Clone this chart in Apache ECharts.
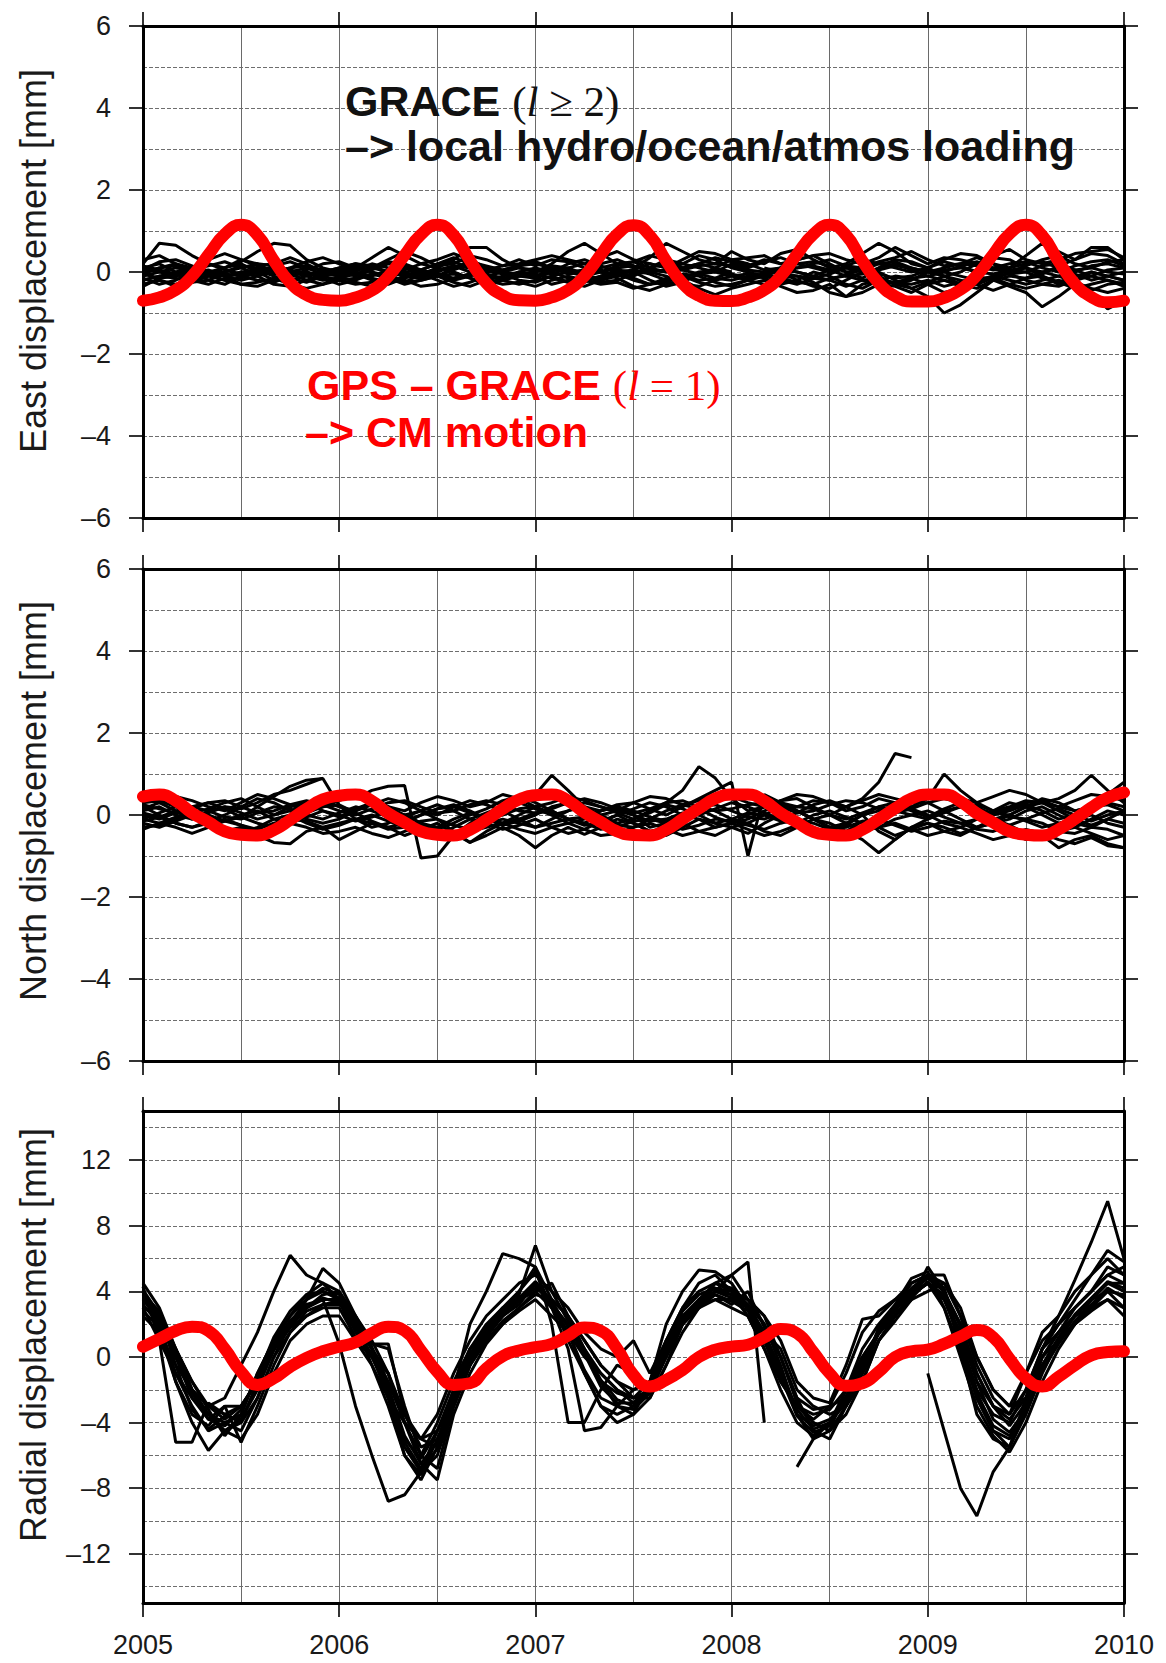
<!DOCTYPE html>
<html>
<head>
<meta charset="utf-8">
<script src="https://cdn.jsdelivr.net/npm/echarts@6/dist/echarts.min.js"></script>
<style>
  html, body { margin: 0; padding: 0; background: #fff; }
  #chart { width: 1166px; height: 1663px; }
</style>
</head>
<body>
<div id="chart"></div>
<script>
// Monthly epochs, January 2005 through January 2010, as decimal years
const epochs = Array.from({ length: 61 }, (_, i) => 2005 + i / 12);

// Tick values
const yearTicks = [2005, 2006, 2007, 2008, 2009, 2010];
const horizTicks = [-6, -4, -2, 0, 2, 4, 6];
const horizGrid = [-5, -4, -3, -2, -1, 0, 1, 2, 3, 4, 5];
const radialTicks = [-12, -8, -4, 0, 4, 8, 12];
const radialGrid = [-14, -12, -10, -8, -6, -4, -2, 0, 2, 4, 6, 8, 10, 12, 14];

// Degree-1 (CM motion) displacement, mm
const eastCM = [
  -0.7, -0.62, -0.44, -0.1, 0.42, 0.92, 1.15, 0.9, 0.28, -0.26, -0.56, -0.68,
  -0.7, -0.62, -0.45, -0.11, 0.41, 0.91, 1.15, 0.9, 0.28, -0.27, -0.57, -0.69,
  -0.7, -0.62, -0.44, -0.1, 0.42, 0.92, 1.14, 0.89, 0.27, -0.28, -0.58, -0.7,
  -0.71, -0.62, -0.44, -0.1, 0.43, 0.92, 1.15, 0.9, 0.27, -0.27, -0.59, -0.72,
  -0.72, -0.63, -0.43, -0.08, 0.43, 0.93, 1.15, 0.89, 0.26, -0.29, -0.61, -0.74, -0.7
];
const northCM = [
  0.45, 0.5, 0.35, 0.05, -0.17, -0.4, -0.48, -0.5, -0.37, -0.12, 0.15, 0.38,
  0.47, 0.5, 0.34, 0.04, -0.18, -0.4, -0.48, -0.5, -0.36, -0.12, 0.15, 0.38,
  0.48, 0.5, 0.35, 0.06, -0.17, -0.4, -0.49, -0.5, -0.36, -0.1, 0.16, 0.4,
  0.5, 0.5, 0.34, 0.05, -0.18, -0.41, -0.48, -0.5, -0.36, -0.1, 0.16, 0.4,
  0.5, 0.5, 0.33, 0.04, -0.18, -0.4, -0.48, -0.5, -0.35, -0.1, 0.18, 0.42, 0.55
];
const radialCM = [
  0.63, 1.1, 1.6, 1.85, 1.6, 0.5, -0.9, -1.7, -1.3, -0.6, -0.05, 0.35,
  0.63, 0.9, 1.45, 1.85, 1.6, 0.4, -0.9, -1.7, -1.6, -0.7, 0.05, 0.4,
  0.6, 0.8, 1.3, 1.8, 1.6, 0.5, -1.1, -1.8, -1.4, -0.8, 0.0, 0.45,
  0.63, 0.75, 1.2, 1.7, 1.45, 0.3, -1.0, -1.75, -1.6, -0.9, 0.0, 0.35,
  0.45, 0.8, 1.25, 1.65, 1.2, -0.1, -1.3, -1.8, -1.2, -0.5, 0.1, 0.3, 0.35
];

// Local loading (GRACE degree >= 2) at individual stations, mm
const eastStations = [
  [0.2, 0.7, 0.65, 0.4, 0.2, 0.1, 0.25, 0.5, 0.7, 0.65, 0.3, 0.1,
   0.0, 0.1, 0.35, 0.6, 0.4, 0.2, 0.1, 0.3, 0.6, 0.6, 0.3, 0.1,
   0.0, 0.2, 0.5, 0.7, 0.45, 0.2, 0.1, 0.35, 0.7, 0.5, 0.3, 0.2,
   0.5, 0.3, 0.2, 0.45, 0.55, 0.3, 0.1, 0.2, 0.45, 0.7, 0.5, 0.2,
   0.1, 0.3, 0.45, 0.4, 0.2, 0.1, 0.4, 0.7, 0.5, 0.3, 0.6, 0.6, 0.3],
  [-0.1, 0.0, 0.1, 0.05, -0.1, 0.0, 0.15, 0.1, -0.05, 0.0, 0.1, 0.05,
   -0.05, 0.0, -0.1, 0.05, 0.1, 0.0, -0.1, 0.05, 0.2, 0.1, 0.0, -0.05,
   0.0, 0.1, 0.05, -0.05, 0.0, 0.1, 0.15, 0.05, 0.0, 0.1, 0.2, 0.1,
   0.0, null, 0.05, 0.1, 0.0, -0.1, 0.05, 0.1, 0.0, 0.05, 0.15, 0.1,
   0.0, 0.05, 0.1, 0.0, -0.05, 0.05, 0.1, 0.0, -0.1, 0.05, 0.1, 0.0, -0.05],
  [-0.3, -0.2, -0.35, -0.25, -0.1, -0.2, -0.3, -0.25, -0.15, -0.3, -0.4, -0.3,
   -0.2, -0.3, -0.25, -0.1, -0.2, -0.35, -0.3, -0.15, -0.05, -0.2, -0.3, -0.25,
   -0.35, -0.2, -0.1, -0.2, -0.3, -0.25, -0.4, -0.3, -0.15, -0.1, -0.25, -0.35,
   -0.3, -0.2, -0.3, -0.15, -0.1, -0.25, -0.5, -0.6, -0.3, -0.2, -0.25, -0.3,
   -0.2, -0.35, -0.25, -0.1, -0.2, -0.35, -0.5, -0.85, -0.6, -0.3, -0.5, -0.9, -0.7],
  [0.1, 0.2, 0.0, -0.15, -0.1, 0.1, 0.2, 0.0, -0.2, -0.1, 0.05, 0.2,
   0.25, 0.1, 0.0, -0.1, 0.05, 0.2, 0.3, 0.45, 0.3, 0.1, 0.0, -0.1,
   -0.15, 0.0, 0.2, 0.3, 0.15, 0.0, -0.1, 0.1, 0.3, 0.2, 0.4, 0.3,
   0.1, 0.0, -0.1, 0.1, 0.3, 0.4, 0.2, 0.0, -0.15, 0.1, 0.3, 0.25,
   0.1, -0.1, 0.0, 0.2, 0.35, 0.3, 0.1, -0.05, 0.15, 0.3, 0.45, 0.4, 0.2],
  [-0.2, -0.1, 0.0, 0.1, -0.05, -0.2, -0.15, 0.0, 0.1, 0.0, -0.1, -0.2,
   -0.15, -0.05, 0.1, 0.0, -0.1, -0.15, 0.0, 0.15, 0.1, -0.05, -0.15, -0.1,
   0.0, 0.15, 0.1, -0.05, -0.2, -0.1, 0.05, 0.2, 0.1, -0.1, -0.2, -0.15,
   0.0, null, 0.1, 0.0, -0.1, -0.15, -0.05, 0.1, 0.05, 0.0, -0.2, -0.4,
   -0.6, -1.0, -0.8, -0.5, -0.2, -0.1, -0.15, 0.0, 0.1, -0.05, -0.2, -0.1, 0.0],
  [0.0, -0.2, -0.3, -0.15, 0.0, -0.1, -0.3, -0.35, -0.2, -0.1, 0.0, -0.15,
   -0.3, -0.2, -0.05, -0.15, -0.3, -0.2, -0.1, -0.25, -0.35, -0.2, -0.1, 0.0,
   -0.1, -0.3, -0.2, -0.1, 0.0, -0.15, -0.35, -0.45, -0.3, -0.2, -0.4, -0.55,
   -0.4, -0.3, -0.2, -0.35, -0.5, -0.45, -0.3, -0.6, -0.5, -0.3, -0.35, -0.5,
   -0.3, -0.2, -0.35, -0.3, -0.15, -0.3, -0.4, -0.3, -0.2, -0.35, -0.45, -0.3, -0.25],
  [0.3, 0.4, 0.2, 0.1, 0.3, 0.45, 0.3, 0.15, 0.2, 0.35, 0.2, 0.0,
   0.1, 0.2, 0.1, 0.3, 0.5, 0.35, 0.15, 0.2, 0.4, 0.3, 0.15, 0.2,
   0.3, 0.4, 0.3, 0.2, 0.35, 0.5, 0.3, 0.2, 0.1, 0.3, 0.5, 0.45,
   0.3, 0.35, 0.4, 0.2, 0.3, 0.4, 0.45, 0.3, 0.2, 0.35, 0.6, 0.4,
   0.2, 0.35, 0.3, 0.2, 0.4, 0.55, 0.3, 0.2, 0.3, 0.45, 0.5, 0.55, 0.35],
  [-0.05, 0.1, 0.2, 0.0, -0.2, -0.3, -0.1, 0.1, 0.05, -0.15, -0.25, -0.1,
   0.05, 0.15, 0.0, -0.2, -0.25, -0.05, 0.1, 0.0, -0.15, -0.3, -0.2, 0.0,
   0.1, 0.0, -0.15, -0.25, -0.1, 0.05, 0.0, -0.2, -0.35, -0.25, -0.05, 0.0,
   -0.1, -0.2, -0.05, 0.0, -0.2, -0.35, -0.4, -0.2, 0.0, -0.1, -0.3, -0.2,
   0.0, -0.1, -0.3, -0.4, -0.2, 0.0, 0.1, -0.1, -0.3, -0.2, 0.0, -0.1, -0.2],
  [0.1, 0.0, -0.1, 0.1, 0.2, 0.05, -0.05, 0.0, 0.15, 0.25, 0.1, -0.05,
   0.0, -0.1, 0.05, 0.2, 0.15, 0.0, -0.1, 0.1, 0.25, 0.15, 0.05, 0.15,
   0.25, 0.1, 0.0, 0.05, 0.2, 0.3, 0.15, 0.0, 0.05, 0.2, 0.1, 0.0,
   0.2, 0.1, 0.25, 0.35, 0.2, 0.1, 0.0, 0.15, 0.3, 0.2, 0.1, 0.0,
   0.1, 0.25, 0.15, 0.0, 0.1, 0.2, 0.25, 0.1, 0.0, 0.15, 0.25, 0.3, 0.15],
  [-0.15, -0.3, -0.2, 0.0, 0.05, -0.1, -0.2, -0.1, 0.0, -0.05, -0.2, -0.3,
   -0.1, 0.0, -0.15, -0.25, -0.1, 0.0, -0.05, -0.2, -0.1, 0.05, -0.05, -0.2,
   -0.25, -0.1, 0.0, -0.1, -0.25, -0.2, -0.05, 0.0, -0.1, -0.3, -0.35, -0.2,
   -0.1, -0.05, -0.15, -0.3, -0.2, 0.0, -0.1, -0.3, -0.4, -0.2, -0.1, -0.15,
   -0.3, -0.5, -0.4, -0.2, -0.1, -0.2, -0.3, -0.2, -0.1, -0.25, -0.4, -0.5, -0.4],
  [0.05, 0.25, 0.3, 0.15, 0.0, 0.1, 0.3, 0.2, 0.0, 0.1, 0.25, 0.35,
   0.2, 0.05, 0.1, 0.25, 0.2, 0.05, 0.2, 0.35, 0.2, 0.05, 0.15, 0.3,
   0.15, 0.3, 0.25, 0.1, 0.0, 0.15, 0.25, 0.4, 0.3, 0.1, 0.2, 0.35,
   0.25, 0.15, 0.3, 0.2, 0.1, 0.2, 0.3, 0.15, 0.1, 0.25, 0.35, 0.5,
   0.3, 0.15, 0.2, 0.35, 0.2, 0.0, 0.15, 0.3, 0.4, 0.2, 0.1, 0.25, 0.3],
  [-0.35, -0.15, -0.05, -0.2, -0.3, -0.15, 0.0, -0.1, -0.3, -0.35, -0.2, -0.05,
   -0.1, -0.25, -0.35, -0.3, -0.15, -0.05, -0.2, -0.35, -0.25, -0.1, -0.2, -0.3,
   -0.2, -0.1, -0.25, -0.35, -0.2, -0.05, -0.15, -0.3, -0.2, -0.05, -0.1, -0.25,
   -0.35, -0.2, -0.1, -0.2, -0.3, -0.15, -0.2, -0.35, -0.2, -0.15, -0.3, -0.4,
   -0.25, -0.1, -0.2, -0.3, -0.45, -0.3, -0.15, -0.1, -0.25, -0.4, -0.3, -0.2, -0.35],
  [0.0, 0.1, 0.15, 0.05, -0.05, 0.0, 0.1, 0.2, 0.15, 0.05, -0.05, 0.0,
   0.1, 0.2, 0.15, 0.0, -0.1, 0.05, 0.2, 0.25, 0.1, 0.0, 0.05, 0.15,
   0.2, 0.1, -0.05, 0.0, 0.1, 0.2, 0.25, 0.1, 0.0, 0.05, 0.15, 0.2,
   0.15, 0.05, 0.0, 0.1, 0.2, 0.25, 0.15, 0.0, 0.05, 0.2, 0.25, 0.1,
   0.0, 0.1, 0.2, 0.15, 0.05, 0.1, 0.2, 0.25, 0.1, 0.0, 0.15, 0.2, 0.1],
  [-0.2, -0.1, -0.15, -0.25, -0.2, -0.05, -0.1, -0.2, -0.25, -0.1, 0.0, -0.1,
   -0.2, -0.15, -0.05, -0.1, -0.25, -0.2, -0.1, -0.05, -0.15, -0.25, -0.2, -0.1,
   -0.05, -0.15, -0.25, -0.2, -0.1, -0.05, -0.2, -0.3, -0.25, -0.1, -0.05, -0.15,
   -0.2, -0.1, -0.05, -0.15, -0.25, -0.3, -0.15, -0.1, -0.2, -0.3, -0.25, -0.15,
   -0.1, -0.2, -0.3, -0.25, -0.1, -0.05, -0.2, -0.3, -0.35, -0.2, -0.1, -0.2, -0.3],
  [0.15, 0.05, -0.05, 0.05, 0.15, 0.25, 0.1, -0.05, 0.0, 0.1, 0.15, 0.05,
   -0.05, 0.05, 0.2, 0.1, -0.05, -0.1, 0.05, 0.15, 0.0, -0.1, 0.0, 0.1,
   0.05, -0.05, 0.1, 0.2, 0.05, -0.1, -0.05, 0.1, 0.2, 0.05, -0.05, 0.1,
   0.3, 0.2, 0.05, -0.05, 0.1, 0.15, 0.05, -0.1, -0.05, 0.1, 0.2, 0.05,
   -0.1, 0.0, 0.15, 0.25, 0.1, -0.05, 0.0, 0.15, 0.2, 0.05, -0.1, 0.05, 0.1],
  [-0.05, -0.15, -0.1, 0.0, -0.05, -0.1, 0.0, 0.05, -0.1, -0.2, -0.1, 0.0,
   0.05, -0.05, -0.2, -0.15, 0.0, 0.05, -0.05, -0.15, -0.05, 0.05, 0.0, -0.1,
   -0.1, 0.05, 0.05, -0.1, -0.15, 0.0, 0.05, -0.05, -0.2, -0.15, 0.0, 0.05,
   -0.05, -0.15, -0.1, 0.05, 0.0, -0.1, -0.2, -0.05, 0.05, -0.05, -0.15, -0.1,
   0.05, 0.0, -0.1, -0.2, -0.1, 0.05, 0.0, -0.15, -0.25, -0.1, 0.0, -0.1, -0.2]
];

const northStations = [
  [0.1, 0.2, 0.0, -0.1, 0.1, 0.2, 0.15, 0.3, 0.5, 0.6, 0.75, 0.9,
   null, 0.4, 0.6, 0.7, 0.72, -1.05, -1.0, -0.5, -0.2, 0.0, 0.1, -0.1,
   -0.3, -0.1, 0.1, 0.2, 0.0, -0.2, -0.1, 0.1, 0.3, 0.6, 1.18, 0.9,
   0.4, 0.1, 0.2, 0.3, 0.1, -0.1, 0.0, 0.2, 0.4, 0.8, 1.5, 1.4,
   null, 0.5, 0.3, 0.1, -0.1, 0.0, 0.2, 0.4, 0.3, 0.1, 0.2, 0.5, 0.8],
  [-0.2, -0.3, -0.15, 0.0, -0.2, -0.4, -0.3, -0.5, -0.67, -0.7, -0.4, -0.3,
   -0.6, -0.4, -0.2, -0.3, -0.5, -0.35, -0.2, -0.45, -0.67, -0.5, -0.3, -0.5,
   -0.8, -0.5, -0.3, -0.47, -0.3, -0.1, -0.2, -0.4, -0.3, -0.2, -0.4, -0.5,
   -0.3, -0.2, -0.4, -0.5, -0.3, -0.1, -0.2, -0.4, -0.6, -0.92, -0.6, -0.3,
   -0.2, -0.4, -0.5, -0.3, -0.2, -0.4, -0.6, -0.5, -0.8, -0.6, -0.5, -0.7, -0.8],
  [0.3, 0.35, 0.2, 0.05, 0.15, 0.3, 0.4, 0.2, 0.0, 0.1, 0.25, 0.35,
   0.2, 0.1, 0.25, 0.4, 0.3, 0.1, 0.0, 0.2, 0.35, 0.25, 0.1, 0.3,
   0.5, 0.97, 0.6, 0.2, 0.1, 0.25, 0.3, 0.15, 0.0, 0.2, 0.4, 0.6,
   0.8, -1.0, 0.5, 0.3, 0.2, 0.35, 0.3, 0.1, 0.2, 0.4, 0.3, 0.2,
   0.4, 1.0, 0.6, 0.3, 0.1, 0.2, 0.35, 0.3, 0.4, 0.6, 0.97, 0.6, 0.3],
  [-0.1, 0.05, 0.2, 0.1, -0.05, -0.15, 0.0, 0.1, -0.1, -0.2, -0.05, 0.1,
   0.0, -0.15, -0.05, 0.1, 0.0, -0.2, -0.3, -0.1, 0.05, -0.05, -0.2, -0.1,
   0.05, 0.1, -0.1, -0.2, 0.0, 0.1, 0.0, -0.15, -0.1, 0.05, 0.0, -0.2,
   -0.1, 0.05, 0.0, -0.15, -0.2, 0.0, 0.1, -0.05, -0.2, -0.3, -0.1, 0.0,
   0.1, -0.05, -0.2, -0.1, 0.05, 0.0, -0.15, -0.3, -0.2, -0.1, 0.0, -0.2, -0.3],
  [0.2, 0.0, -0.2, -0.3, -0.15, 0.0, 0.2, 0.4, 0.3, 0.1, -0.1, -0.2,
   -0.1, 0.1, 0.3, 0.2, 0.0, -0.2, -0.35, -0.2, 0.0, 0.15, 0.35, 0.45,
   0.3, 0.1, -0.1, -0.25, -0.2, 0.0, 0.15, 0.3, 0.2, 0.0, -0.1, -0.3,
   -0.2, 0.0, 0.2, 0.35, 0.4, 0.2, 0.0, -0.2, -0.35, -0.2, 0.1, 0.3,
   0.3, 0.1, -0.1, -0.3, -0.2, 0.0, 0.2, 0.3, 0.1, -0.1, -0.25, -0.1, 0.1],
  [-0.3, -0.25, -0.1, 0.05, -0.1, -0.3, -0.45, -0.3, -0.1, 0.0, -0.2, -0.35,
   -0.25, -0.1, 0.0, -0.15, -0.3, -0.45, -0.5, -0.3, -0.1, -0.2, -0.35, -0.25,
   -0.1, -0.3, -0.45, -0.35, -0.15, 0.0, -0.2, -0.4, -0.5, -0.3, -0.1, -0.2,
   -0.3, -0.45, -0.2, 0.0, -0.15, -0.35, -0.5, -0.4, -0.15, -0.3, -0.5, -0.35,
   -0.2, -0.3, -0.45, -0.3, -0.1, -0.25, -0.45, -0.6, -0.4, -0.3, -0.45, -0.6, -0.5],
  [0.4, 0.3, 0.45, 0.35, 0.2, 0.1, 0.3, 0.5, 0.4, 0.25, 0.1, 0.2,
   0.35, 0.5, 0.4, 0.2, 0.1, 0.3, 0.45, 0.35, 0.2, 0.3, 0.5, 0.4,
   0.2, 0.3, 0.45, 0.35, 0.2, 0.1, 0.3, 0.45, 0.4, 0.25, 0.35, 0.5,
   0.45, 0.3, 0.2, 0.35, 0.5, 0.45, 0.3, 0.2, 0.35, 0.5, 0.4, 0.3,
   0.5, 0.6, 0.4, 0.3, 0.45, 0.6, 0.5, 0.3, 0.2, 0.35, 0.5, 0.45, 0.35],
  [0.0, -0.1, 0.05, 0.2, 0.3, 0.15, -0.05, -0.2, -0.3, -0.15, 0.05, 0.2,
   0.25, 0.05, -0.15, -0.3, -0.2, 0.0, 0.15, 0.25, 0.1, -0.1, -0.25, -0.15,
   0.0, 0.2, 0.3, 0.15, -0.05, -0.25, -0.3, -0.1, 0.1, 0.25, 0.15, -0.05,
   -0.2, -0.1, 0.1, 0.25, 0.1, -0.1, -0.3, -0.25, 0.0, 0.2, 0.3, 0.15,
   0.0, -0.2, -0.3, -0.1, 0.1, 0.3, 0.2, 0.0, -0.2, -0.3, -0.1, 0.1, 0.0],
  [-0.35, -0.2, -0.3, -0.45, -0.3, -0.15, -0.25, -0.4, -0.35, -0.2, -0.3, -0.45,
   -0.4, -0.3, -0.45, -0.55, -0.4, -0.25, -0.35, -0.5, -0.4, -0.3, -0.2, -0.35,
   -0.45, -0.3, -0.2, -0.35, -0.5, -0.45, -0.3, -0.2, -0.35, -0.5, -0.4, -0.3,
   -0.2, -0.35, -0.5, -0.4, -0.25, -0.3, -0.45, -0.55, -0.4, -0.3, -0.2, -0.35,
   -0.5, -0.4, -0.3, -0.45, -0.6, -0.5, -0.35, -0.45, -0.6, -0.7, -0.55, -0.75, -0.8],
  [0.15, 0.3, 0.1, -0.1, 0.05, 0.2, 0.05, -0.1, 0.0, 0.2, 0.3, 0.1,
   -0.05, 0.15, 0.3, 0.15, -0.05, 0.1, 0.25, 0.1, -0.1, 0.05, 0.2, 0.3,
   0.15, 0.0, 0.1, 0.3, 0.2, 0.05, -0.1, 0.05, 0.25, 0.15, 0.0, 0.15,
   0.3, 0.2, 0.05, -0.1, 0.05, 0.25, 0.35, 0.2, 0.0, 0.1, 0.25, 0.1,
   -0.05, 0.15, 0.3, 0.2, 0.0, 0.1, 0.25, 0.1, -0.1, 0.0, 0.2, 0.25, 0.1],
  [0.05, -0.05, 0.1, 0.2, 0.1, -0.05, -0.1, 0.05, 0.2, 0.15, 0.0, -0.1,
   0.05, 0.2, 0.1, -0.05, -0.15, 0.0, 0.15, 0.2, 0.05, -0.1, 0.0, 0.15,
   0.2, 0.05, -0.1, -0.05, 0.1, 0.2, 0.1, -0.05, -0.15, 0.0, 0.2, 0.25,
   0.1, -0.05, -0.1, 0.05, 0.2, 0.15, 0.0, -0.1, 0.05, 0.2, 0.1, 0.0,
   -0.1, 0.05, 0.2, 0.25, 0.1, -0.05, -0.1, 0.05, 0.15, 0.0, -0.15, 0.0, 0.1],
  [-0.15, -0.05, -0.2, -0.3, -0.2, -0.1, -0.25, -0.35, -0.2, -0.1, -0.15, -0.3,
   -0.2, -0.1, -0.2, -0.35, -0.3, -0.15, -0.1, -0.25, -0.35, -0.2, -0.1, -0.2,
   -0.3, -0.2, -0.1, -0.2, -0.35, -0.3, -0.15, -0.1, -0.2, -0.35, -0.25, -0.1,
   -0.15, -0.25, -0.35, -0.2, -0.1, -0.2, -0.35, -0.3, -0.15, -0.1, -0.25, -0.4,
   -0.3, -0.15, -0.2, -0.35, -0.4, -0.25, -0.1, -0.2, -0.4, -0.45, -0.3, -0.35, -0.5],
  [0.25, 0.15, 0.05, 0.15, 0.3, 0.35, 0.2, 0.05, 0.1, 0.25, 0.35, 0.25,
   0.1, 0.0, 0.15, 0.3, 0.35, 0.2, 0.05, 0.1, 0.25, 0.35, 0.25, 0.1,
   0.05, 0.15, 0.3, 0.4, 0.3, 0.15, 0.05, 0.15, 0.3, 0.35, 0.2, 0.1,
   0.15, 0.25, 0.3, 0.2, 0.05, 0.1, 0.25, 0.35, 0.3, 0.15, 0.05, 0.15,
   0.3, 0.4, 0.3, 0.15, 0.05, 0.15, 0.3, 0.35, 0.2, 0.1, 0.2, 0.3, 0.2],
  [-0.1, -0.2, -0.05, 0.1, 0.0, -0.15, -0.05, 0.2, 0.45, 0.7, 0.85, 0.89,
   0.23, -0.1, -0.3, -0.2, 0.0, 0.1, -0.1, -0.4, -0.67, -0.4, -0.2, 0.0,
   0.2, 0.0, -0.2, -0.1, 0.1, 0.2, 0.0, -0.3, -0.2, 0.0, 0.2, 0.1,
   -0.1, -0.2, 0.0, 0.2, 0.1, -0.1, -0.3, -0.2, 0.0, -0.4, -0.6, -0.3,
   -0.1, 0.1, 0.2, 0.0, -0.2, -0.1, 0.1, 0.2, 0.0, -0.2, -0.3, -0.1, -0.2]
];

const radialStations = [
  [4.3, 1.0, -5.2, -5.2, -2.8, -3.5, -4.0, -1.5, 0.5, 2.2, 3.2, 3.5,
   0.8, -3.0, -6.0, -8.8, -8.4, -7.0, -4.5, -2.5, -0.5, 1.5, 2.8, 4.0,
   5.2, 3.0, 1.5, -1.0, -3.0, -3.5, -3.0, -1.8, 0.8, 2.8, 3.8, 4.2,
   3.8, 3.0, 1.2, -1.0, -3.5, -4.2, -3.8, -2.8, -0.8, 1.8, 3.0, 4.2,
   5.0, 4.2, 1.0, -2.5, -4.5, -5.5, -3.0, 0.0, 1.5, 3.0, 4.0, 5.0, 5.5],
  [4.0, 2.0, -1.5, -4.0, -5.7, -4.5, -3.8, -2.0, 0.5, 2.0, 3.5, 4.2,
   3.8, 2.2, 0.5, -2.5, -6.0, -7.2, -5.0, -2.5, 0.0, 1.2, 2.5, 3.2,
   4.5, 3.2, 1.5, -0.8, -2.5, -3.0, -3.2, -2.2, 0.0, 2.0, 3.0, 3.8,
   3.2, 4.0, 1.8, 0.0, -2.8, -4.0, -4.5, -3.0, -1.0, 1.0, 2.5, 3.8,
   4.5, 3.8, 2.0, -1.0, -3.0, -4.2, -2.8, 0.5, 2.0, 3.5, 5.0, 6.5, 5.8],
  [3.0, 2.5, 0.0, -2.5, -3.8, -3.0, -5.2, -3.0, -0.5, 1.5, 2.8, 3.2,
   3.4, 1.8, 0.5, -1.0, -4.0, -6.5, -7.5, -3.5, -1.0, 0.8, 2.0, 3.0,
   4.0, 4.5, 2.5, 0.5, -1.0, -2.0, -2.5, -1.5, 1.0, 2.5, 3.2, 3.5,
   3.0, 2.5, 0.5, -1.5, -3.0, -3.5, -3.2, -2.0, 0.0, 1.5, 2.5, 3.5,
   4.0, 4.5, 2.5, -0.5, -2.5, -3.5, -2.0, 0.5, 1.5, 2.5, 3.0, 4.0, 3.0],
  [2.5, 1.5, -0.5, -2.0, -3.0, -2.5, -0.5, 1.5, 4.0, 6.2, 5.0, 4.5,
   3.5, 1.0, -0.5, -2.5, -4.0, -5.0, -5.5, -2.0, 2.0, 4.0, 6.3, 6.0,
   5.5, 3.5, 1.0, -1.0, -3.0, -4.0, -3.5, -1.5, 2.0, 4.0, 5.3, 5.2,
   4.5, 3.0, 1.0, -1.5, -3.0, -3.8, -3.0, -1.0, 1.5, 2.8, 3.5, 4.0,
   4.5, 3.5, 1.5, -1.5, -3.0, -3.5, -1.0, 1.5, 2.5, 4.0, 5.0, 6.0, 5.0],
  [3.8, 2.5, 0.5, -2.0, -3.5, -4.5, -4.0, -2.5, 0.0, 2.0, 3.5, 5.4,
   4.5, 2.5, 0.8, 0.5, -3.0, -6.0, -6.8, -3.0, -0.5, 1.0, 2.2, 3.0,
   3.8, 3.5, 2.5, 1.0, -0.5, -1.5, -2.0, -1.5, 0.5, 2.0, 3.0, 4.5,
   5.0, 3.5, 2.0, 0.0, -2.5, -3.2, -3.0, -2.5, -0.5, 1.5, 3.0, 4.0,
   5.0, 4.5, 3.0, 0.0, -2.0, -3.0, -2.5, 0.0, 1.0, 2.0, 2.8, 3.5, 3.0],
  [4.5, 3.0, 0.5, -2.0, -3.0, -3.8, -3.0, -1.5, 0.5, 1.8, 2.5, 3.0,
   3.0, 1.2, 0.8, 0.8, -3.5, -5.5, -5.0, -3.0, -0.5, 1.5, 2.5, 3.8,
   6.8, 4.0, 2.2, 0.2, -1.5, -2.2, -2.5, -2.0, 0.0, 2.0, 3.0, 3.5,
   3.5, 3.0, 1.5, 0.5, -2.0, -3.0, -3.5, -3.0, -1.5, 1.0, 2.2, 3.5,
   5.5, 4.0, 2.0, -1.0, -3.0, -3.8, -2.5, 0.0, 1.5, 2.5, 3.5, 4.0, 3.8],
  [3.2, 2.0, -1.0, -3.0, -4.5, -4.0, -3.5, -1.0, 1.0, 2.5, 3.5, 4.0,
   3.5, 2.0, 0.0, -2.0, -5.0, -6.2, -4.5, -2.0, 0.5, 1.8, 3.0, 4.0,
   5.5, 2.0, -4.0, -4.0, -2.0, -0.5, -1.0, -1.8, 1.0, 3.0, 4.0, 4.5,
   4.0, 3.5, 2.5, 0.0, -2.5, -4.5, -5.0, -3.0, -1.0, 1.5, 3.0, 4.5,
   5.0, 4.0, 0.5, -3.5, -5.0, -5.5, -3.5, -1.0, 1.0, 2.5, 3.5, 4.5, 4.5],
  [4.0, 1.5, -1.5, -3.5, -4.2, -3.0, -3.0, -1.5, 0.5, 2.0, 3.0, 3.8,
   4.0, 2.5, 0.5, -1.5, -4.0, -6.0, -4.0, -1.5, 0.5, 1.5, 2.5, 3.5,
   4.5, 3.0, 0.5, -4.5, -4.3, -3.0, -2.0, -1.5, 0.5, 2.2, 3.3, 4.0,
   3.8, 2.5, 0.5, -2.0, -4.0, -4.8, -4.0, -2.0, 0.0, 1.5, 2.5, 3.8,
   4.5, 3.0, 0.5, -2.5, -4.5, -5.0, -3.0, -0.5, 1.0, 2.0, 3.5, 4.5, 4.0],
  [3.5, 2.2, 0.0, -2.0, -3.5, -4.0, -4.5, -2.5, 0.0, 1.5, 2.5, 3.2,
   3.2, 2.5, 1.0, -1.0, -3.5, -5.0, -4.5, -2.5, 0.0, 1.5, 2.8, 3.5,
   4.2, 3.5, 2.5, 1.0, -0.5, -1.5, -2.5, -2.5, -0.5, 1.5, 3.0, 4.0,
   5.0, 5.8, -4.0, null, -3.0, -4.0, -4.5, -3.5, -1.5, 1.0, 2.5, 3.8,
   4.5, 3.5, 1.0, -2.0, -3.5, -4.0, -2.0, 0.5, 2.5, 4.7, 7.0, 9.5, 6.0],
  [2.8, 1.8, 0.5, -1.5, -3.0, -3.5, -3.0, -1.5, 0.8, 2.2, 3.0, 3.5,
   3.5, 1.5, 0.2, -2.5, -5.5, -7.0, -6.0, -3.0, -0.5, 1.0, 2.0, 2.8,
   3.5, 2.5, 1.5, 0.0, -1.0, -2.0, -2.8, -2.2, 0.5, 2.5, 3.5, 4.2,
   4.0, 3.0, 0.5, null, -6.7, -5.0, -4.0, -2.8, -0.5, 1.5, 2.5, null,
   -1.0, -4.5, -8.0, -9.7, -7.0, -5.5, -2.5, 0.5, 2.0, 3.0, 4.0, 5.0, 4.5],
  [3.8, 2.8, 0.5, -1.5, -3.2, -4.8, -3.5, -1.0, 1.0, 2.5, 3.8, 4.5,
   4.0, 2.0, -0.5, -3.0, -6.0, -7.5, -5.5, -2.0, 0.5, 2.0, 3.0, 3.5,
   4.0, 3.0, 2.0, 0.5, -1.5, -3.0, -3.5, -2.5, -0.5, 2.0, 3.5, 4.5,
   4.2, 3.2, 2.0, -0.5, -3.5, -5.0, -4.5, -2.0, 0.5, 2.0, 3.2, 4.8,
   5.2, 3.0, 0.0, -3.0, -4.8, -5.8, -4.0, -1.5, 0.5, 2.0, 3.0, 3.5, 2.5],
  [3.0, 1.0, -1.0, -2.5, -3.5, -4.5, -5.0, -3.5, -1.0, 1.0, 2.0, 2.5,
   2.5, 1.0, 0.0, -1.0, -4.0, -5.0, -3.5, -1.0, 1.0, 2.5, 3.5, 4.5,
   5.0, 4.0, 3.0, 1.5, 0.5, 0.0, 1.0, -1.0, 1.0, 3.0, 4.5, 5.0,
   4.0, 3.5, 2.5, 1.0, -1.5, -2.5, -2.8, -0.5, 2.3, 2.5, 3.5, 4.5,
   5.0, 5.0, 2.5, 0.0, -2.0, -3.0, -1.0, 1.0, 2.0, 3.0, 4.0, 5.5, 5.0],
  [3.6, 2.4, 0.2, -2.2, -3.8, -4.2, -3.2, -1.2, 1.2, 2.8, 3.8, 4.0,
   3.6, 2.2, 0.6, -1.8, -4.8, -6.5, -5.2, -2.2, 0.2, 1.6, 2.8, 3.6,
   4.6, 3.4, 1.8, 0.2, -1.8, -2.8, -2.8, -1.8, 0.4, 2.4, 3.4, 4.0,
   3.6, 3.2, 1.5, -0.8, -3.2, -4.4, -4.0, -2.6, -0.4, 1.6, 2.8, 4.0,
   4.8, 4.0, 1.8, -1.5, -3.8, -4.6, -3.2, -0.5, 1.2, 2.6, 3.6, 4.6, 4.2],
  [4.1, 2.6, -0.5, -3.2, -4.4, -3.6, -3.8, -1.8, 0.4, 1.8, 3.0, 3.6,
   3.3, 1.8, 0.0, -2.2, -5.2, -6.8, -5.6, -2.6, -0.2, 1.3, 2.6, 3.4,
   4.4, 3.2, 2.0, 0.4, -1.4, -2.6, -3.0, -2.0, 0.2, 2.2, 3.2, 3.8,
   3.4, 2.8, 1.0, -1.2, -3.6, -4.6, -4.2, -2.4, -0.2, 1.4, 2.6, 3.6,
   4.6, 3.6, 1.2, -2.2, -4.2, -4.8, -3.4, -0.8, 0.8, 2.2, 3.2, 4.2, 3.6]
];

// ---- layout ----
const PLOT_LEFT = 143;
const PLOT_WIDTH = 981;
const PLOT_HEIGHT = 492;
const panels = [
  { top: 26,   min: -6,  max: 6,  ticks: horizTicks,  grid: horizGrid,  stations: eastStations,   cm: eastCM,   title: 'East displacement [mm]',   titleY: 261 },
  { top: 569,  min: -6,  max: 6,  ticks: horizTicks,  grid: horizGrid,  stations: northStations,  cm: northCM,  title: 'North displacement [mm]',  titleY: 801 },
  { top: 1111, min: -15, max: 15, ticks: radialTicks, grid: radialGrid, stations: radialStations, cm: radialCM, title: 'Radial displacement [mm]', titleY: 1335 }
];

const SANS = '"Liberation Sans", Arial, Helvetica, sans-serif';
const SERIF = '"Liberation Serif", "Times New Roman", serif';
const frameLine = { color: '#000', width: 3 };
const outerTick = { show: true, inside: false, length: 14, lineStyle: { color: '#000', width: 1.6 } };
const gridStyle = { color: '#6e6e6e', width: 1, type: [4, 2] };
const dashLabel = v => (v < 0 ? '\u2013' + Math.abs(v) : String(v));

const grids = [], xAxes = [], yAxes = [], series = [];

panels.forEach((p, gi) => {
  grids.push({ left: PLOT_LEFT, top: p.top, width: PLOT_WIDTH, height: PLOT_HEIGHT, containLabel: false, outerBoundsMode: 'none' });

  // x: bottom frame with year ticks (labels only on the last panel), top frame, half-year grid
  xAxes.push({
    gridIndex: gi, type: 'value', min: 2005, max: 2010, interval: 1, position: 'bottom',
    axisLine: { show: true, onZero: false, lineStyle: frameLine },
    axisTick: Object.assign({}, outerTick, { customValues: yearTicks }),
    axisLabel: { show: gi === 2, customValues: yearTicks, margin: 28, fontSize: 27, fontFamily: SANS, color: '#1a1a1a', formatter: v => String(v) },
    splitLine: { show: false }
  });
  xAxes.push({
    gridIndex: gi, type: 'value', min: 2005, max: 2010, interval: 1, position: 'top',
    axisLine: { show: true, onZero: false, lineStyle: frameLine },
    axisTick: Object.assign({}, outerTick, { customValues: yearTicks }),
    axisLabel: { show: false },
    splitLine: { show: false }
  });
  xAxes.push({
    gridIndex: gi, type: 'value', min: 2005, max: 2010, interval: 0.5, position: 'bottom',
    axisLine: { show: false, onZero: false }, axisTick: { show: false }, axisLabel: { show: false },
    splitLine: { show: true, lineStyle: { color: '#6a6a6a', width: 1, type: 'solid' } }
  });

  // y: left frame with labels, right frame, minor grid
  yAxes.push({
    gridIndex: gi, type: 'value', min: p.min, max: p.max, position: 'left',
    axisLine: { show: true, onZero: false, lineStyle: frameLine },
    axisTick: Object.assign({}, outerTick, { customValues: p.ticks }),
    axisLabel: { show: true, customValues: p.ticks, margin: 32, fontSize: 27, fontFamily: SANS, color: '#1a1a1a', formatter: dashLabel },
    splitLine: { show: false }
  });
  yAxes.push({
    gridIndex: gi, type: 'value', min: p.min, max: p.max, position: 'right',
    axisLine: { show: true, onZero: false, lineStyle: frameLine },
    axisTick: Object.assign({}, outerTick, { customValues: p.ticks }),
    axisLabel: { show: false },
    splitLine: { show: false }
  });
  yAxes.push({
    gridIndex: gi, type: 'value', min: p.min, max: p.max, position: 'left',
    axisLine: { show: false, onZero: false },
    axisTick: { show: false, customValues: p.grid },
    axisLabel: { show: false },
    splitLine: { show: true, lineStyle: gridStyle }
  });

  const xi = gi * 3, yi = gi * 3;
  p.stations.forEach(arr => {
    series.push({
      type: 'line', xAxisIndex: xi, yAxisIndex: yi, z: 3, silent: true,
      data: epochs.map((t, i) => [t, arr[i]]),
      showSymbol: false, symbol: 'none', connectNulls: false,
      lineStyle: { color: '#000', width: 3, join: 'bevel' }
    });
  });
  series.push({
    type: 'line', xAxisIndex: xi, yAxisIndex: yi, z: 6, silent: true,
    data: epochs.map((t, i) => [t, p.cm[i]]),
    showSymbol: false, symbol: 'none', smooth: 0.5,
    lineStyle: { color: '#ff0000', width: 12, cap: 'round', join: 'round' }
  });
});

// axis titles and annotations
const graphics = panels.map(p => ({
  type: 'text', x: 33, y: p.titleY, rotation: Math.PI / 2, z: 20,
  style: { text: p.title, fontSize: 36, fontFamily: SANS, fill: '#1a1a1a', align: 'center', verticalAlign: 'middle' }
}));

function richStyles(color) {
  return {
    s: { fontFamily: SANS, fontWeight: 'bold', fontSize: 43, fill: color, color: color },
    p: { fontFamily: SERIF, fontSize: 43, fill: color, color: color },
    i: { fontFamily: SERIF, fontStyle: 'italic', fontSize: 43, fill: color, color: color }
  };
}
graphics.push(
  { type: 'text', x: 345, y: 101, z: 20, style: { text: '{s|GRACE }{p|(}{i|l}{p| \u2265 2)}', rich: richStyles('#111'), align: 'left', verticalAlign: 'middle' } },
  { type: 'text', x: 345, y: 146, z: 20, style: { text: '{s|\u2013> local hydro/ocean/atmos loading}', rich: richStyles('#111'), align: 'left', verticalAlign: 'middle' } },
  { type: 'text', x: 307, y: 385, z: 20, style: { text: '{s|GPS \u2013 GRACE }{p|(}{i|l}{p| = 1)}', rich: richStyles('#ff0000'), align: 'left', verticalAlign: 'middle' } },
  { type: 'text', x: 305, y: 432, z: 20, style: { text: '{s|\u2013> CM motion}', rich: richStyles('#ff0000'), align: 'left', verticalAlign: 'middle' } }
);

const chart = echarts.init(document.getElementById('chart'), null, { renderer: 'svg' });
chart.setOption({
  backgroundColor: '#ffffff',
  animation: false,
  grid: grids,
  xAxis: xAxes,
  yAxis: yAxes,
  series: series,
  graphic: graphics
});
</script>
</body>
</html>
